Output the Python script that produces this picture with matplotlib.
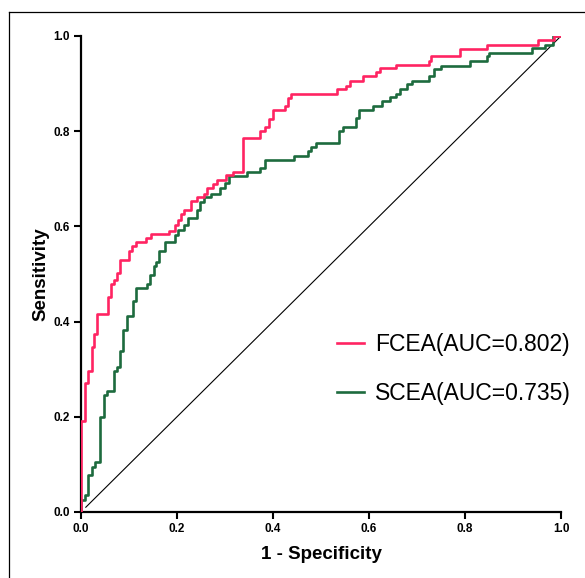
import matplotlib
matplotlib.use('Agg')
import matplotlib.pyplot as plt
from matplotlib.lines import Line2D

plt.rcParams['font.family'] = ['Liberation Sans', 'DejaVu Sans']

# ROC step vertices: at each fpr the curve rises to the given tpr
FCEA_FPR = [0, 0, 0.008, 0.014, 0.022, 0.028, 0.034, 0.056, 0.062, 0.068,
            0.075, 0.081, 0.101, 0.107, 0.114, 0.135, 0.145, 0.184, 0.196, 0.202,
            0.209, 0.215, 0.229, 0.242, 0.256, 0.262, 0.275, 0.283, 0.302, 0.316,
            0.338, 0.372, 0.384, 0.392, 0.400, 0.425, 0.431, 0.438, 0.534, 0.553,
            0.561, 0.588, 0.615, 0.623, 0.657, 0.725, 0.729, 0.790, 0.845, 0.952,
            0.985, 1.0]
FCEA_TPR = [0, 0.192, 0.27, 0.297, 0.347, 0.374, 0.417, 0.452, 0.479, 0.488,
            0.503, 0.529, 0.548, 0.558, 0.568, 0.576, 0.584, 0.591, 0.603, 0.614,
            0.626, 0.635, 0.653, 0.661, 0.668, 0.680, 0.689, 0.697, 0.707, 0.715,
            0.785, 0.800, 0.809, 0.826, 0.844, 0.853, 0.870, 0.878, 0.888, 0.895,
            0.906, 0.915, 0.924, 0.932, 0.940, 0.947, 0.957, 0.972, 0.982, 0.992,
            1.0, 1.0]

SCEA_FPR = [0, 0, 0.008, 0.015, 0.022, 0.029, 0.040, 0.047, 0.054, 0.068,
            0.075, 0.081, 0.087, 0.095, 0.108, 0.114, 0.138, 0.144, 0.152, 0.157,
            0.163, 0.175, 0.196, 0.202, 0.215, 0.223, 0.242, 0.248, 0.256, 0.270,
            0.289, 0.301, 0.308, 0.346, 0.372, 0.384, 0.444, 0.472, 0.479, 0.490,
            0.538, 0.546, 0.573, 0.579, 0.608, 0.627, 0.643, 0.657, 0.665, 0.680,
            0.690, 0.725, 0.735, 0.750, 0.810, 0.845, 0.849, 0.939, 0.967, 0.983,
            1.0]
SCEA_TPR = [0, 0.026, 0.036, 0.077, 0.095, 0.105, 0.200, 0.245, 0.254, 0.297,
            0.304, 0.339, 0.382, 0.411, 0.444, 0.471, 0.480, 0.498, 0.517, 0.525,
            0.548, 0.568, 0.582, 0.593, 0.603, 0.618, 0.634, 0.651, 0.661, 0.668,
            0.680, 0.692, 0.705, 0.715, 0.723, 0.740, 0.748, 0.758, 0.767, 0.775,
            0.800, 0.808, 0.827, 0.844, 0.852, 0.864, 0.871, 0.879, 0.889, 0.899,
            0.906, 0.916, 0.930, 0.937, 0.947, 0.957, 0.964, 0.974, 0.981, 1.0,
            1.0]

LABELS = ['FCEA(AUC=0.802)', 'SCEA(AUC=0.735)']
COLORS = ['#FF2462', '#1D6B3E']
TICKS = [0.0, 0.2, 0.4, 0.6, 0.8, 1.0]

fig = plt.figure(figsize=(5.85, 5.78), dpi=100)
ax = fig.add_axes([81 / 585, 1 - 512 / 578, 480 / 585, 476 / 578])

# outer frame (top and left edges only visible)
fig.add_artist(Line2D([9 / 585, 9 / 585], [0, 1 - 12 / 578], color='black', lw=0.9,
                      transform=fig.transFigure))
fig.add_artist(Line2D([9 / 585, 1], [1 - 12 / 578, 1 - 12 / 578], color='black', lw=0.9,
                      transform=fig.transFigure))

ax.plot([0.01, 1.0], [0.01, 1.0], color='black', lw=0.8, zorder=1)
ax.step(FCEA_FPR, FCEA_TPR, where='post', color=COLORS[0], lw=1.9, label=LABELS[0], zorder=3)
ax.step(SCEA_FPR, SCEA_TPR, where='post', color=COLORS[1], lw=1.9, label=LABELS[1], zorder=2)

ax.set_xlim(0, 1)
ax.set_ylim(0, 1)
ax.set_xticks(TICKS)
ax.set_yticks(TICKS)
ax.set_xticklabels(['%.1f' % t for t in TICKS], fontsize=8.5, fontweight='bold')
ax.set_yticklabels(['%.1f' % t for t in TICKS], fontsize=8.5, fontweight='bold')
ax.tick_params(direction='out', length=5, width=1.5, pad=3)
for side in ['top', 'right']:
    ax.spines[side].set_visible(False)
for side in ['left', 'bottom']:
    ax.spines[side].set_linewidth(1.6)

ax.set_xlabel('1 - Specificity', fontsize=13.5, fontweight='bold', labelpad=8)
ax.set_ylabel('Sensitivity', fontsize=13.5, fontweight='bold', labelpad=3)

ax.legend(loc='upper left', bbox_to_anchor=(0.533, 0.376), frameon=False, fontsize=16.5,
          borderpad=0, borderaxespad=0,
          handlelength=1.2, handletextpad=0.48, labelspacing=1.15)

fig.savefig('out.png', dpi=100)
